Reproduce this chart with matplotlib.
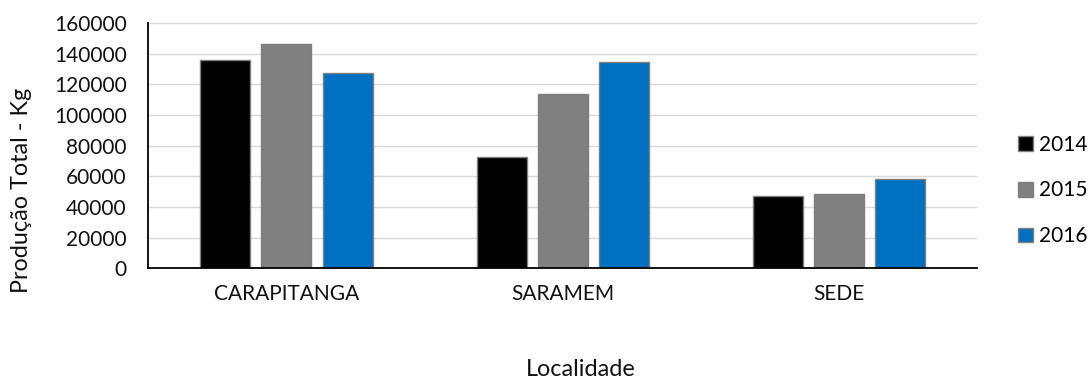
import numpy as np
import matplotlib
matplotlib.use("Agg")
import matplotlib.pyplot as plt
from matplotlib.patches import Patch

# dados
localidades = ["CARAPITANGA", "SARAMEM", "SEDE"]
anos = ["2014", "2015", "2016"]
prod_2014 = [135700, 72800, 46900]
prod_2015 = [146500, 113500, 48200]
prod_2016 = [127600, 134600, 58100]
yticks = [0, 20000, 40000, 60000, 80000, 100000, 120000, 140000, 160000]

cores = ["#000000", "#808080", "#0070C0"]

plt.rcParams["font.family"] = ["Lato", "DejaVu Sans"]
FS = 15      # rótulos dos eixos e legenda
FS_TIT = 16.8  # títulos dos eixos

fig = plt.figure(figsize=(10.89, 3.78), dpi=100)
ax = fig.add_axes([0.1362, 0.2897, 0.7612, 0.650])

x = np.arange(len(localidades))
largura = 0.181
passo = 0.2215
series = [prod_2014, prod_2015, prod_2016]
for i, (vals, cor) in enumerate(zip(series, cores)):
    ax.bar(x + (i - 1) * passo, vals, width=largura, color=cor,
           edgecolor="#7f7f7f", linewidth=1.0, zorder=3)

ax.set_xlim(-0.5, 2.5)
ax.set_ylim(0, 160000)
ax.set_yticks(yticks)
ax.set_yticklabels([str(v) for v in yticks], fontsize=FS, color="#111111")
ax.set_xticks(x)
ax.set_xticklabels(localidades, fontsize=FS, color="#111111")
ax.tick_params(axis="y", length=0, pad=15.5)
ax.tick_params(axis="x", length=0, pad=11)

ax.grid(axis="y", color="#d9d9d9", linewidth=1.0, zorder=0)
ax.set_axisbelow(True)
for s in ["top", "right"]:
    ax.spines[s].set_visible(False)
for s in ["left", "bottom"]:
    ax.spines[s].set_color("#000000")
    ax.spines[s].set_linewidth(1.3)
    ax.spines[s].set_zorder(4)

fig.text(22 / 1089, 1 - 190 / 378, "Produção Total - Kg", rotation=90, ha="center",
         va="center", fontsize=FS_TIT, color="#111111")
fig.text(580.5 / 1089, 0.006, "Localidade", ha="center", va="baseline",
         fontsize=FS_TIT, color="#111111")

handles = [Patch(facecolor=c, edgecolor="#7f7f7f", linewidth=1.0) for c in cores]
fig.legend(handles, anos, loc="center left", bbox_to_anchor=(1018 / 1089, 1 - 190.5 / 378),
           frameon=False, fontsize=FS, handlelength=0.72, handleheight=0.72,
           handletextpad=0.29, labelspacing=1.24, borderpad=0, borderaxespad=0)

fig.savefig("out.png", dpi=100)
